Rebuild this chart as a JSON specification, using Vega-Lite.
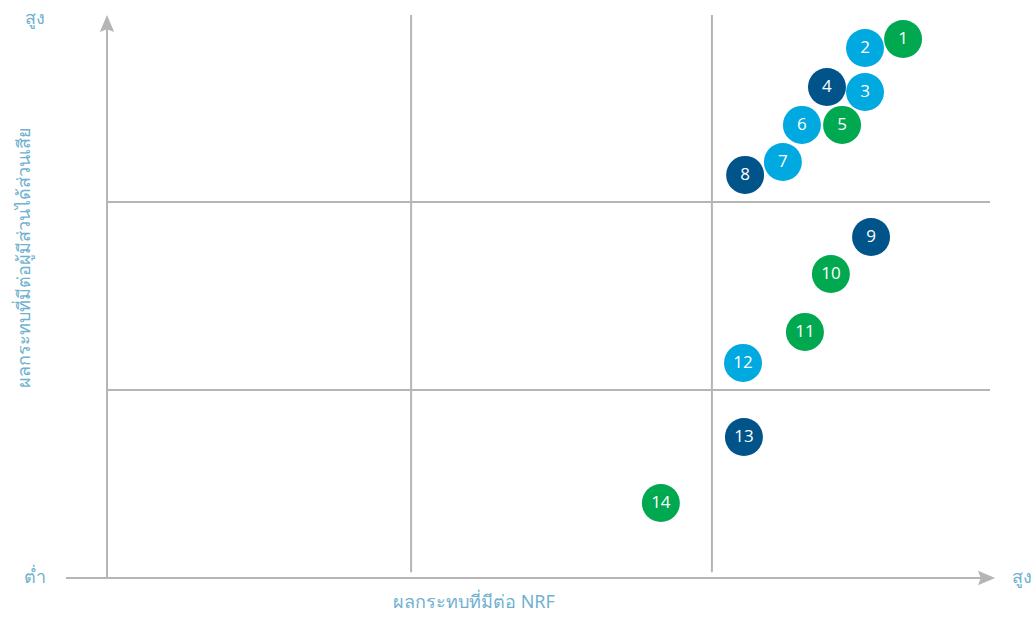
{
  "$schema": "https://vega.github.io/schema/vega-lite/v6.json",
  "width": 906,
  "height": 564,
  "autosize": {"type": "none"},
  "padding": {"left": 107, "top": 14, "right": 21, "bottom": 39},
  "background": "white",
  "config": {"view": {"stroke": null}},
  "datasets": {
    "lines": [
      {"kind": "grid", "x": 1.007, "x2": 1.007, "y": 0.03, "y2": 2.995},
      {"kind": "grid", "x": 2.003, "x2": 2.003, "y": 0.03, "y2": 2.995},
      {"kind": "grid", "x": 0, "x2": 2.924, "y": 1, "y2": 1},
      {"kind": "grid", "x": 0, "x2": 2.924, "y": 2, "y2": 2},
      {"kind": "axis", "x": -0.136, "x2": 2.9, "y": 0, "y2": 0},
      {"kind": "axis", "x": 0, "x2": 0, "y": 0, "y2": 2.92}
    ],
    "arrows": [
      {"dir": "up", "x": 0, "y": 2.947, "angle": 0},
      {"dir": "right", "x": 2.911, "y": 0, "angle": 90}
    ],
    "labels": [
      {"text": "สูง", "x": -0.238, "y": 2.975, "rot": 0},
      {"text": "ต่ำ", "x": -0.238, "y": 0.0, "rot": 0},
      {"text": "สูง", "x": 3.03, "y": 0.0, "rot": 0},
      {"text": "ผลกระทบที่มีต่อ NRF", "x": 1.215, "y": -0.133, "rot": 0},
      {"text": "ผลกระทบที่มีต่อผู้มีส่วนได้ส่วนเสีย", "x": -0.272, "y": 1.707, "rot": -90}
    ],
    "issues": [
      {"id": "1", "group": "green", "x": 2.636, "y": 2.867},
      {"id": "2", "group": "light", "x": 2.51, "y": 2.819},
      {"id": "3", "group": "light", "x": 2.51, "y": 2.585},
      {"id": "4", "group": "dark", "x": 2.384, "y": 2.612},
      {"id": "5", "group": "green", "x": 2.434, "y": 2.41},
      {"id": "6", "group": "light", "x": 2.301, "y": 2.41},
      {"id": "7", "group": "light", "x": 2.238, "y": 2.213},
      {"id": "8", "group": "dark", "x": 2.113, "y": 2.144},
      {"id": "9", "group": "dark", "x": 2.53, "y": 1.814},
      {"id": "10", "group": "green", "x": 2.397, "y": 1.617},
      {"id": "11", "group": "green", "x": 2.311, "y": 1.309},
      {"id": "12", "group": "light", "x": 2.106, "y": 1.144},
      {"id": "13", "group": "dark", "x": 2.109, "y": 0.75},
      {"id": "14", "group": "green", "x": 1.834, "y": 0.399}
    ]
  },
  "layer": [
    {
      "data": {"name": "lines"},
      "mark": {"type": "rule", "color": "#B5B5B5", "strokeWidth": 2},
      "encoding": {
        "x": {"field": "x", "type": "quantitative", "scale": {"domain": [0, 3], "nice": false, "zero": false}, "axis": null},
        "x2": {"field": "x2"},
        "y": {"field": "y", "type": "quantitative", "scale": {"domain": [0, 3], "nice": false, "zero": false}, "axis": null},
        "y2": {"field": "y2"}
      }
    },
    {
      "data": {"name": "arrows"},
      "mark": {"type": "point", "shape": "M0,-1L0.8,0.9L0,0.6L-0.8,0.9Z", "filled": true, "color": "#B5B5B5", "opacity": 1, "size": 324},
      "encoding": {
        "x": {"field": "x", "type": "quantitative"},
        "y": {"field": "y", "type": "quantitative"},
        "angle": {"field": "angle", "type": "quantitative", "scale": null}
      }
    },
    {
      "data": {"name": "labels"},
      "mark": {"type": "text", "font": "Noto Sans", "fontSize": 18, "color": "#6FB1CF", "baseline": "middle", "align": "center"},
      "encoding": {
        "x": {"field": "x", "type": "quantitative"},
        "y": {"field": "y", "type": "quantitative"},
        "text": {"field": "text"},
        "angle": {"field": "rot", "type": "quantitative", "scale": null}
      }
    },
    {
      "data": {"name": "issues"},
      "mark": {"type": "circle", "size": 1444, "opacity": 1},
      "encoding": {
        "x": {"field": "x", "type": "quantitative"},
        "y": {"field": "y", "type": "quantitative"},
        "color": {"field": "group", "type": "nominal", "scale": {"domain": ["green", "light", "dark"], "range": ["#00A94F", "#00A9E0", "#00548A"]}, "legend": null}
      }
    },
    {
      "data": {"name": "issues"},
      "mark": {"type": "text", "font": "Open Sans", "fontSize": 17, "color": "white", "baseline": "middle", "align": "center"},
      "encoding": {
        "x": {"field": "x", "type": "quantitative"},
        "y": {"field": "y", "type": "quantitative"},
        "text": {"field": "id"}
      }
    }
  ]
}
